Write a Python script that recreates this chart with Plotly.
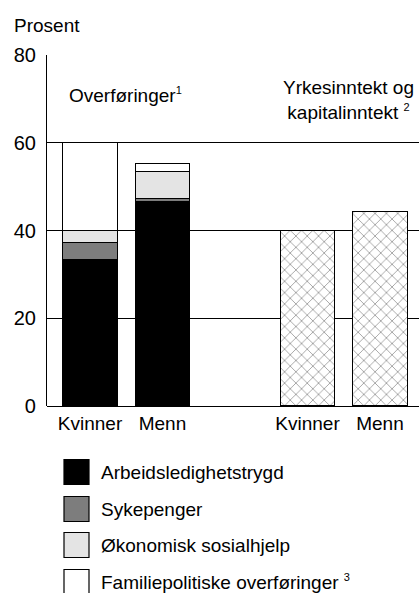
import plotly.graph_objects as go

# ---- data ----
tick_labels = ["Kvinner", "Menn", "Kvinner", "Menn"]
transfer_pos = [0, 1]          # Overføringer group
income_pos = [3, 4]            # Yrkesinntekt group
arbeid = [33.3, 46.5]
syke = [3.9, 0.8]
sosial = [2.8, 6.1]
familie = [20.0, 1.9]
yrkesinntekt = [40.0, 44.3]
y_ticks = [0, 20, 40, 60, 80]

SUP = "<sup><span style='font-size:11px'>%s</span></sup>"
series_names = ["Arbeidsledighetstrygd", "Sykepenger", "Økonomisk sosialhjelp",
                "Familiepolitiske overføringer " + SUP % "3"]
series_colors = ["#000000", "#7d7d7d", "#e4e4e4", "#ffffff"]

FONT = "Liberation Sans, Arial, sans-serif"
FS = 19

fig = go.Figure()
for vals, name, col in zip([arbeid, syke, sosial, familie], series_names, series_colors):
    fig.add_trace(go.Bar(x=transfer_pos, y=vals, name=name, width=0.75,
                         marker=dict(color=col, line=dict(color="black", width=1)),
                         showlegend=False))

fig.add_trace(go.Bar(x=income_pos, y=yrkesinntekt, width=0.75, showlegend=False,
                     marker=dict(color="white", line=dict(color="black", width=1.3),
                                 pattern=dict(shape="x", fgcolor="#777777", bgcolor="white",
                                              size=8, solidity=0.15, fillmode="replace"))))

W, H = 419, 593
ml, mr, mt, mb = 47, 0, 55, 187
pw, ph = W - ml - mr, H - mt - mb


def px_x(px):
    return (px - ml) / pw


def px_y(py):
    return (H - mb - py) / ph


fig.update_layout(
    width=W, height=H, barmode="stack",
    margin=dict(l=ml, r=mr, t=mt, b=mb),
    paper_bgcolor="white", plot_bgcolor="white",
    font=dict(family=FONT, size=FS, color="black"),
    xaxis=dict(range=[-0.593, 4.538], tickvals=transfer_pos + income_pos, ticktext=tick_labels,
               showgrid=False, zeroline=False, showline=False, ticks="", ticklabelstandoff=4,
               tickfont=dict(family=FONT, size=FS)),
    yaxis=dict(range=[0, 80], tickvals=y_ticks, showgrid=True, gridcolor="black", gridwidth=1.2,
               zeroline=True, zerolinecolor="black", zerolinewidth=1.2,
               showline=True, linecolor="black", linewidth=1.2, ticks="", ticklabelstandoff=6,
               tickfont=dict(family=FONT, size=FS + 1)),
)

annotations = [
    dict(text="Prosent", x=px_x(12), y=px_y(26), xanchor="left", yanchor="middle"),
    dict(text="Overføringer" + SUP % "1", x=px_x(125), y=px_y(95), xanchor="center", yanchor="middle"),
    dict(text="Yrkesinntekt og<br>kapitalinntekt " + SUP % "2", x=px_x(348), y=px_y(100),
         xanchor="center", yanchor="middle"),
]
for a in annotations:
    fig.add_annotation(xref="paper", yref="paper", showarrow=False,
                       font=dict(family=FONT, size=FS, color="black"), **a)

# manual legend
row_centers = [472, 509, 545, 582]
for name, col, cy in zip(series_names, series_colors, row_centers):
    fig.add_shape(type="rect", xref="paper", yref="paper",
                  x0=px_x(64), x1=px_x(89), y0=px_y(cy + 12.5), y1=px_y(cy - 12.5),
                  fillcolor=col, line=dict(color="black", width=1.2))
    fig.add_annotation(xref="paper", yref="paper", showarrow=False, text=name,
                       x=px_x(99), y=px_y(cy), xanchor="left", yanchor="middle",
                       font=dict(family=FONT, size=FS, color="black"))

fig.write_html("out.html", config={"displayModeBar": False},
               post_script="document.body.style.margin='0';document.body.style.overflow='hidden';")
